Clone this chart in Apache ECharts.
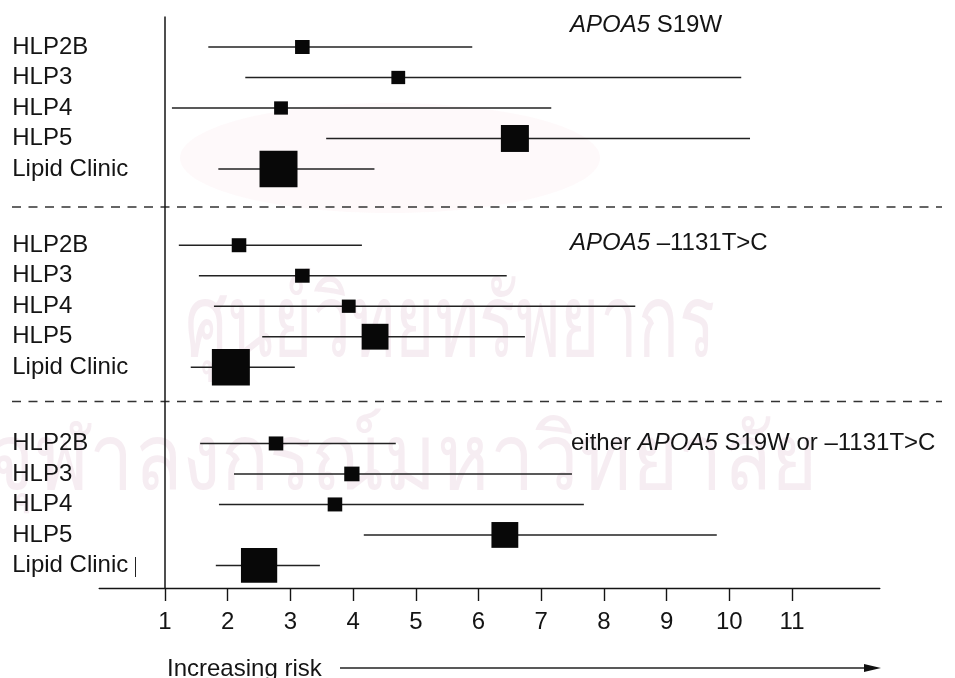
<!DOCTYPE html>
<html>
<head>
<meta charset="utf-8">
<script src="https://cdn.jsdelivr.net/npm/echarts@6/dist/echarts.min.js"></script>
<style>
  html, body { margin: 0; padding: 0; background: #fff; }
  #chart { width: 955px; height: 678px; }
</style>
</head>
<body>
<div id="chart"></div>
<script>
// Odds ratios (square) with 95% CI (whiskers) per patient group, three genotype panels
const rowNames = ['HLP2B', 'HLP3', 'HLP4', 'HLP5', 'Lipid Clinic'];
const panelTitles = ['{i|APOA5} S19W', '{i|APOA5} \u20131131T>C', 'either {i|APOA5} S19W or \u20131131T>C'];

const s19wEst   = [3.19, 4.72, 2.85, 6.58, 2.81];
const s19wLow   = [1.69, 2.28, 1.11, 3.57, 1.85];
const s19wHigh  = [5.90, 10.19, 7.16, 10.33, 4.34];
const s19wWeight = [1.0, 0.9, 0.9, 3.7, 6.8];

const t1131Est   = [2.18, 3.19, 3.93, 4.35, 2.05];
const t1131Low   = [1.22, 1.54, 1.78, 2.55, 1.41];
const t1131High  = [4.14, 6.45, 8.50, 6.74, 3.07];
const t1131Weight = [1.0, 1.0, 0.9, 3.4, 6.8];

const eitherEst   = [2.77, 3.98, 3.71, 6.42, 2.50];
const eitherLow   = [1.56, 2.10, 1.86, 4.17, 1.81];
const eitherHigh  = [4.68, 7.49, 7.68, 9.80, 3.47];
const eitherWeight = [1.0, 1.1, 1.0, 3.4, 6.2];

const xTickLabels = [1, 2, 3, 4, 5, 6, 7, 8, 9, 10, 11];

const watermarkLines = ['ศูนย์วิทยทรัพยากร', 'จุฬาลงกรณ์มหาวิทยาลัย'];

const panels = [
  { est: s19wEst, low: s19wLow, high: s19wHigh, w: s19wWeight },
  { est: t1131Est, low: t1131Low, high: t1131High, w: t1131Weight },
  { est: eitherEst, low: eitherLow, high: eitherHigh, w: eitherWeight }
];

const FONT = '"Liberation Sans", Arial, Helvetica, sans-serif';
const INK = '#141414';
const PANEL_STEP = 6.5;   // vertical offset between panels, in row units

const ciData = [];
const pointData = [];
const rowPositions = [];
const rowLabelAt = {};
panels.forEach((p, g) => {
  rowNames.forEach((name, r) => {
    const y = g * PANEL_STEP + r;
    rowPositions.push(y);
    rowLabelAt[y.toFixed(2)] = name;
    ciData.push([p.low[r], p.high[r], y]);
    pointData.push([p.est[r], y, p.w[r]]);
  });
});

// horizontal squeeze so a watermark line fills a given width
const measureCtx = document.createElement('canvas').getContext('2d');
function squeezeTo(text, font, width) {
  measureCtx.font = font;
  const w = measureCtx.measureText(text).width || width;
  return width / w;
}
const wmFont1 = '100px sans-serif';
const wmFont2 = '92px sans-serif';
const wmScale1 = squeezeTo(watermarkLines[0], wmFont1, 530);
const wmScale2 = squeezeTo(watermarkLines[1], wmFont2, 830);
const WM_FILL = 'rgba(150, 55, 115, 0.09)';

const chart = echarts.init(document.getElementById('chart'), null, { renderer: 'canvas' });

const option = {
  backgroundColor: '#ffffff',
  animation: false,
  grid: { left: 99.2, right: 75.2, top: 16.5, bottom: 90, containLabel: false, outerBoundsMode: 'none' },
  xAxis: {
    type: 'value',
    position: 'bottom',
    min: -0.05,
    max: 12.4,
    splitLine: { show: false },
    axisLine: { show: true, onZero: false, lineStyle: { color: INK, width: 1.4 } },
    axisTick: { show: true, customValues: xTickLabels, length: 13, lineStyle: { color: INK, width: 1.4 } },
    axisLabel: { customValues: xTickLabels, fontSize: 24, color: INK, fontFamily: FONT, margin: 22 }
  },
  yAxis: {
    type: 'value',
    inverse: true,
    min: -1,
    max: 17.74,
    splitLine: { show: false },
    axisLine: { show: false },
    axisTick: { show: false },
    axisLabel: {
      customValues: rowPositions,
      formatter: v => rowLabelAt[Number(v).toFixed(2)] || '',
      align: 'left',
      margin: 87,
      fontSize: 24,
      color: INK,
      fontFamily: FONT
    }
  },
  series: [
    {
      type: 'custom',
      name: 'CI',
      data: ciData,
      encode: { x: [0, 1], y: 2 },
      renderItem: function (params, api) {
        const y = api.value(2);
        const a = api.coord([api.value(0), y]);
        const b = api.coord([api.value(1), y]);
        return {
          type: 'line',
          shape: { x1: a[0], y1: a[1], x2: b[0], y2: b[1] },
          style: { stroke: '#222', lineWidth: 1.4 }
        };
      },
      markLine: {
        silent: true,
        symbol: ['none', 'none'],
        label: { show: false },
        lineStyle: { color: INK, width: 1.5, type: 'solid' },
        data: [{ xAxis: 1 }]
      },
      z: 2
    },
    {
      type: 'scatter',
      name: 'Odds ratio',
      data: pointData,
      symbol: 'rect',
      symbolSize: function (val) {
        const s = 14 * Math.sqrt(val[2]);
        return [s * 1.04, s];
      },
      itemStyle: { color: '#080808', opacity: 1 },
      z: 3
    }
  ],
  graphic: [
    // faint background watermark
    {
      type: 'ellipse', silent: true, z: -20,
      shape: { cx: 390, cy: 158, rx: 210, ry: 55 },
      style: { fill: 'rgba(225, 120, 150, 0.045)' }
    },
    {
      type: 'text', silent: true, z: -10, x: 185, y: 378, scaleX: wmScale1,
      style: { text: watermarkLines[0], font: wmFont1, fill: WM_FILL, verticalAlign: 'bottom' }
    },
    {
      type: 'text', silent: true, z: -10, x: -12, y: 510, scaleX: wmScale2,
      style: { text: watermarkLines[1], font: wmFont2, fill: WM_FILL, verticalAlign: 'bottom' }
    },
    // panel titles
    {
      type: 'text', x: 570, y: 25,
      style: { text: panelTitles[0], font: '24px ' + FONT, fill: INK, verticalAlign: 'middle',
               rich: { i: { fontStyle: 'italic', fontSize: 24, fontFamily: FONT, fill: INK } } }
    },
    {
      type: 'text', x: 570, y: 243,
      style: { text: panelTitles[1], font: '24px ' + FONT, fill: INK, verticalAlign: 'middle',
               rich: { i: { fontStyle: 'italic', fontSize: 24, fontFamily: FONT, fill: INK } } }
    },
    {
      type: 'text', x: 571, y: 443,
      style: { text: panelTitles[2], font: '24px ' + FONT, fill: INK, verticalAlign: 'middle',
               rich: { i: { fontStyle: 'italic', fontSize: 24, fontFamily: FONT, fill: INK } } }
    },
    // dashed separators between panels
    {
      type: 'line', silent: true,
      shape: { x1: 12, y1: 207, x2: 942, y2: 207 },
      style: { stroke: '#333', lineWidth: 1.4, lineDash: [9, 7.5] }
    },
    {
      type: 'line', silent: true,
      shape: { x1: 12, y1: 401.5, x2: 942, y2: 401.5 },
      style: { stroke: '#333', lineWidth: 1.4, lineDash: [9, 7.5] }
    },
    // small caret after the last row label
    {
      type: 'line', silent: true,
      shape: { x1: 135.5, y1: 557, x2: 135.5, y2: 577 },
      style: { stroke: '#222', lineWidth: 1 }
    },
    // "Increasing risk" arrow
    {
      type: 'text', x: 167, y: 669,
      style: { text: 'Increasing risk', font: '24px ' + FONT, fill: INK, verticalAlign: 'middle' }
    },
    {
      type: 'line', silent: true,
      shape: { x1: 340, y1: 668, x2: 868, y2: 668 },
      style: { stroke: '#222', lineWidth: 1.4 }
    },
    {
      type: 'polygon', silent: true,
      shape: { points: [[864, 664], [881, 668], [864, 672]] },
      style: { fill: '#111' }
    }
  ]
};

chart.setOption(option);
</script>
</body>
</html>
